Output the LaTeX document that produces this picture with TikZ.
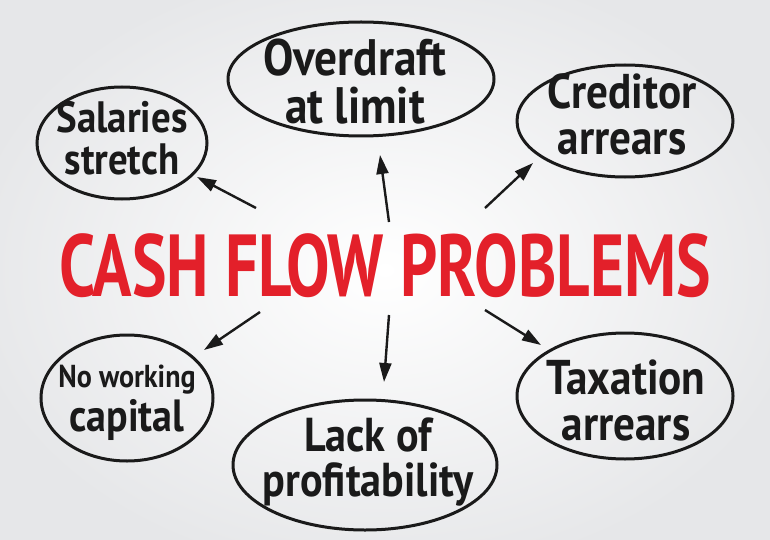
\documentclass[tikz,border=0pt]{standalone}
\usepackage{fontspec}
\setmainfont{PT Sans}
\usetikzlibrary{shapes.geometric,arrows.meta}
\definecolor{cfred}{HTML}{E3202A}
\definecolor{ink}{HTML}{1A1A1A}
\tikzset{
  bubble/.style={draw=ink, line width=3pt, ellipse, inner sep=0pt},
  btext/.style={inner sep=0pt, align=center, text=ink, font=\bfseries\fontsize{#1}{#1}\selectfont},
  arr/.style={draw=ink, line width=2.4pt, -{Triangle[length=19pt,width=12pt,fill=ink]}},
}
\newcommand{\tall}[2][1.22]{\scalebox{1.08}[#1]{#2}}
\begin{document}
\begin{tikzpicture}[x=1pt,y=-1pt]
\useasboundingbox (0,0) rectangle (770,540);
\shade[inner color=white, outer color={rgb,255:red,230;green,231;blue,233}] (-40,-40) rectangle (810,580);
% title
\node[text=cfred, font=\bfseries\fontsize{62}{62}\selectfont, inner sep=0pt] (title) at (385,266)
  {\scalebox{1.05}[1.42]{CASH FLOW PROBLEMS}};
% bubbles
\node[bubble, minimum width=170, minimum height=112] (sal) at (122,143) {};
\node[bubble, minimum width=266, minimum height=114] (ovr) at (361,79) {};
\node[bubble, minimum width=216, minimum height=112] (cred) at (625,121) {};
\node[bubble, minimum width=172, minimum height=126] (nwc) at (127,398) {};
\node[bubble, minimum width=264, minimum height=130] (lack) at (365,465) {};
\node[bubble, minimum width=216, minimum height=126] (tax) at (625,396) {};
% bubble texts
\node[btext=36] (salt) at (122,138) {\tall{Salaries}\\[6pt]\tall{stretch}};
\node[btext=42] (ovrt) at (355,82) {\tall{Overdraft}\\[6pt]\tall{at limit}};
\node[btext=40] (credt) at (622,114) {\tall{Creditor}\\[6pt]\tall{arrears}};
\node[btext=37] (nwct) at (127,403) {\fontsize{26}{28}\selectfont\tall{No working}\\[4pt]\tall{capital}};
\node[btext=39] (lackt) at (368,462) {\tall{Lack of}\\[6pt]\tall{profitability}};
\node[btext=40] (taxt) at (626,400) {\tall{Taxation}\\[6pt]\tall{arrears}};
% arrow end points
\coordinate (t1) at (256,208); \coordinate (h1) at (197,177);
\coordinate (t2) at (389,222); \coordinate (h2) at (380,155);
\coordinate (t3) at (485,208); \coordinate (h3) at (533,163);
\coordinate (t4) at (260,312); \coordinate (h4) at (204,350);
\coordinate (t5) at (389,315); \coordinate (h5) at (384,382);
\coordinate (t6) at (485,310); \coordinate (h6) at (541,345);
\draw[arr] (t1) -- (h1);
\draw[arr] (t2) -- (h2);
\draw[arr] (t3) -- (h3);
\draw[arr] (t4) -- (h4);
\draw[arr] (t5) -- (h5);
\draw[arr] (t6) -- (h6);
\end{tikzpicture}
\end{document}
